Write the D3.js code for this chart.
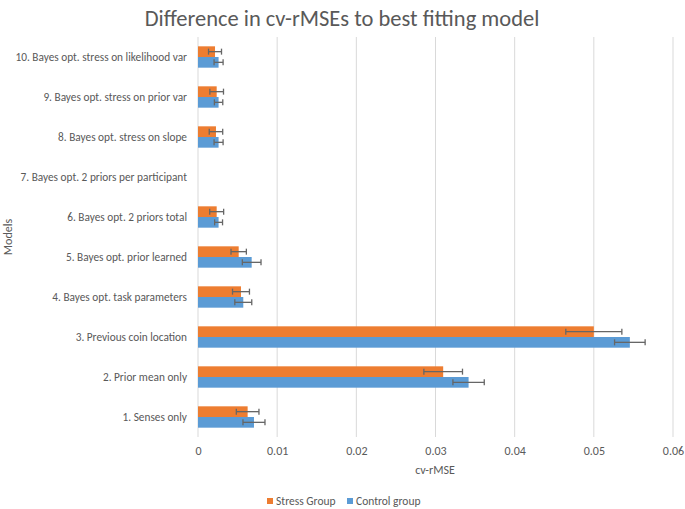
<!DOCTYPE html>
<html><head><meta charset="utf-8">
<script src="https://cdn.jsdelivr.net/npm/d3@7"></script>
<style>body{margin:0;background:#fff}</style>
</head><body>
<svg id="c" width="685" height="509"></svg>
<script>
const categories = ["1. Senses only","2. Prior mean only","3. Previous coin location","4. Bayes opt. task parameters","5. Bayes opt. prior learned","6. Bayes opt. 2 priors total","7. Bayes opt. 2 priors per participant","8. Bayes opt. stress on slope","9. Bayes opt. stress on prior var","10. Bayes opt. stress on likelihood var"];
const stressValues = [0.00627,0.03097,0.0500,0.00543,0.00514,0.00236,null,0.00227,0.00236,0.00215];
const stressErrors = [0.00143,0.00244,0.00354,0.00107,0.00097,0.00088,null,0.00085,0.00086,0.00082];
const controlValues = [0.00707,0.03418,0.05455,0.00572,0.00678,0.0026,null,0.0026,0.0026,0.0026];
const controlErrors = [0.00139,0.00198,0.00193,0.00107,0.00118,0.0005,null,0.00057,0.00053,0.00057];
const xTicks = [0,0.01,0.02,0.03,0.04,0.05,0.06];
const seriesNames = ["Stress Group","Control group"];
const colors = ["#ED7D31","#5B9BD5"];

const svg = d3.select("#c");
const font = "Carlito, Calibri, 'Liberation Sans Narrow', 'Open Sans', sans-serif";
const x = d3.scaleLinear().domain([0,0.06]).range([198,673]);
const y = d3.scaleBand().domain(categories.slice().reverse()).range([37,437]).paddingInner(0.466).paddingOuter(0.233);
const sub = d3.scaleBand().domain([0,1]).range([0,y.bandwidth()]);

// gridlines
svg.append("g").selectAll("line").data(xTicks).join("line")
  .attr("x1",d=>x(d)).attr("x2",d=>x(d)).attr("y1",37).attr("y2",437)
  .attr("stroke","#d9d9d9").attr("stroke-width",1);

// x axis labels
const xa = svg.append("g").attr("transform","translate(0,437)")
  .call(d3.axisBottom(x).tickValues(xTicks).tickSize(0).tickPadding(9).tickFormat(d=>d===0?"0":String(d)));
xa.select(".domain").remove();
xa.selectAll("text").attr("font-family",font).attr("font-size",12).attr("fill","#595959");

// y axis labels
const ya = svg.append("g").attr("transform","translate(198,0)")
  .call(d3.axisLeft(y).tickSize(0).tickPadding(11));
ya.select(".domain").remove();
ya.selectAll("text").attr("font-family",font).attr("font-size",11.3).attr("fill","#595959");

const series = [{v:stressValues,e:stressErrors},{v:controlValues,e:controlErrors}];
series.forEach((s,si)=>{
  const data = categories.map((c,i)=>({c, v:s.v[i], e:s.e[i]})).filter(d=>d.v!=null);
  const g = svg.append("g");
  g.selectAll("rect").data(data).join("rect")
    .attr("x",x(0)).attr("y",d=>y(d.c)+sub(si))
    .attr("width",d=>x(d.v)-x(0)).attr("height",sub.bandwidth())
    .attr("fill",colors[si]);
  const eb = svg.append("g").attr("stroke","#666666").attr("stroke-width",1.3);
  data.forEach(d=>{
    const cy = y(d.c)+sub(si)+sub.bandwidth()/2;
    eb.append("line").attr("x1",x(d.v-d.e)).attr("x2",x(d.v+d.e)).attr("y1",cy).attr("y2",cy);
    [d.v-d.e,d.v+d.e].forEach(xv=>eb.append("line").attr("x1",x(xv)).attr("x2",x(xv)).attr("y1",cy-3).attr("y2",cy+3));
  });
});

// title
svg.append("text").attr("x",342).attr("y",26).attr("text-anchor","middle")
  .attr("font-family",font).attr("font-size",22.5).attr("fill","#595959")
  .text("Difference in cv-rMSEs to best fitting model");
// axis titles
svg.append("text").attr("x",435).attr("y",474).attr("text-anchor","middle")
  .attr("font-family",font).attr("font-size",12).attr("fill","#595959").text("cv-rMSE");
svg.append("text").attr("transform","translate(12,237) rotate(-90)").attr("text-anchor","middle")
  .attr("font-family",font).attr("font-size",12).attr("fill","#595959").text("Models");

// legend
const lg = svg.append("g");
const lx = [267,347];
seriesNames.forEach((n,i)=>{
  lg.append("rect").attr("x",lx[i]).attr("y",498).attr("width",6).attr("height",6).attr("fill",colors[i]);
  lg.append("text").attr("x",lx[i]+9).attr("y",505).attr("font-family",font).attr("font-size",11.5).attr("fill","#595959").text(n);
});
</script>
</body></html>
